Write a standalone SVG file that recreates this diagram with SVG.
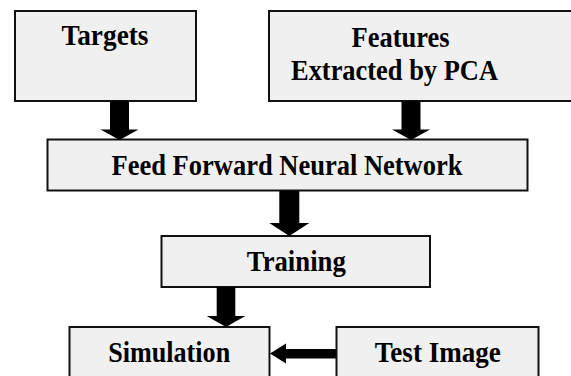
<svg xmlns="http://www.w3.org/2000/svg" width="571" height="376" viewBox="0 0 571 376">
  <style>
    .box { fill: #f0f0f0; stroke: #111; stroke-width: 2; }
    .lbl { font-family: "Liberation Serif", "Times New Roman", serif; font-weight: bold; font-size: 29px; fill: #000; text-anchor: middle; }
    .arrow { fill: #000; stroke: none; }
  </style>
  <rect width="571" height="376" fill="#fff"/>

  <g id="targets">
    <rect class="box" x="15" y="11" width="181" height="90"/>
    <text class="lbl" x="105" y="45" textLength="87" lengthAdjust="spacingAndGlyphs">Targets</text>
  </g>

  <g id="features">
    <rect class="box" x="269" y="11" width="303" height="90"/>
    <text class="lbl" x="400.5" y="46.5" textLength="98" lengthAdjust="spacingAndGlyphs">Features</text>
    <text class="lbl" x="394.5" y="80" textLength="207" lengthAdjust="spacingAndGlyphs">Extracted by PCA</text>
  </g>

  <g id="ffnn">
    <rect class="box" x="47.5" y="139.5" width="480" height="51"/>
    <text class="lbl" x="287" y="175" textLength="351" lengthAdjust="spacingAndGlyphs">Feed Forward Neural Network</text>
  </g>

  <g id="training">
    <rect class="box" x="161.5" y="236" width="268.5" height="51"/>
    <text class="lbl" x="296.3" y="270.5" textLength="99" lengthAdjust="spacingAndGlyphs">Training</text>
  </g>

  <g id="simulation">
    <rect class="box" x="69.5" y="327" width="200" height="60"/>
    <text class="lbl" x="169.2" y="361.7" textLength="122" lengthAdjust="spacingAndGlyphs">Simulation</text>
  </g>

  <g id="test-image">
    <rect class="box" x="336.5" y="327" width="202" height="60"/>
    <text class="lbl" x="437.8" y="361.7" textLength="126" lengthAdjust="spacingAndGlyphs">Test Image</text>
  </g>

  <!-- block arrows between stages -->
  <g id="connectors">
    <polygon class="arrow" points="110,101 129,101 129,129.5 138.5,129.5 119.5,140 100.5,129.5 110,129.5"/>
    <polygon class="arrow" points="401.5,101 420.5,101 420.5,129.5 430,129.5 411,140 392,129.5 401.5,129.5"/>
    <polygon class="arrow" points="279.3,191 299.3,191 299.3,223 309.3,223 289.3,236 269.3,223 279.3,223"/>
    <polygon class="arrow" points="216.7,287 235.3,287 235.3,316 245.3,316 226,327 206.7,316 216.7,316"/>
    <polygon class="arrow" points="336,349 336,358.5 286,358.5 286,363.5 270,353.5 286,343.5 286,349"/>
  </g>
</svg>
